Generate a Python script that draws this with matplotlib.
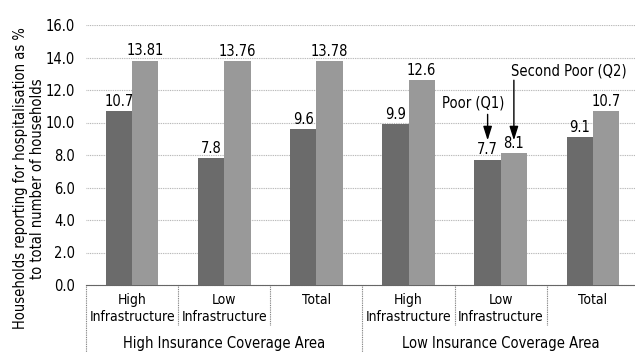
import matplotlib
matplotlib.use("Agg")
import matplotlib.pyplot as plt
from matplotlib.lines import Line2D
import numpy as np

plt.rcParams['font.family'] = ['DejaVu Sans']
plt.rcParams['font.stretch'] = 'condensed'

# --- DATA
categories = ["High\nInfrastructure", "Low\nInfrastructure", "Total",
              "High\nInfrastructure", "Low\nInfrastructure", "Total"]
groups = ["High Insurance Coverage Area", "Low Insurance Coverage Area"]
q1_values = [10.7, 7.8, 9.6, 9.9, 7.7, 9.1]
q2_values = [13.81, 13.76, 13.78, 12.6, 8.1, 10.7]
q1_labels = ["10.7", "7.8", "9.6", "9.9", "7.7", "9.1"]
q2_labels = ["13.81", "13.76", "13.78", "12.6", "8.1", "10.7"]
y_ticks = [0, 2, 4, 6, 8, 10, 12, 14, 16]

DARK = "#6b6b6b"
LIGHT = "#999999"
W = 0.285
FS = 10.5

fig = plt.figure(figsize=(6.35, 3.52), dpi=100)
ax = fig.add_axes([86 / 635, 1 - 285 / 352, 553 / 635, 260 / 352])

x = np.arange(len(categories))
ax.bar(x - W / 2, q1_values, W, color=DARK, zorder=3)
ax.bar(x + W / 2, q2_values, W, color=LIGHT, zorder=3)

for xi, v, lab in zip(x, q1_values, q1_labels):
    ax.text(xi - W / 2, v + 0.15, lab, ha='center', va='bottom', fontsize=FS)
for xi, v, lab in zip(x, q2_values, q2_labels):
    ax.text(xi + W / 2, v + 0.15, lab, ha='center', va='bottom', fontsize=FS)

ax.set_xlim(-0.5, 5.5)
ax.set_ylim(0, 16)
ax.set_yticks(y_ticks)
ax.set_yticklabels([f"{t:.1f}" for t in y_ticks], fontsize=FS)
ax.set_xticks([])
for t in y_ticks[1:]:
    ax.axhline(t, color="#b0b0b0", lw=0.8, ls=(0, (0.8, 0.8)), zorder=1)

for s in ['top', 'right', 'left']:
    ax.spines[s].set_visible(False)
ax.spines['bottom'].set_linestyle((0, (0.8, 0.8)))
ax.spines['bottom'].set_color("#666666")
ax.spines['bottom'].set_linewidth(0.8)
ax.tick_params(axis='y', length=0, pad=8)

# category labels and dividers
trans = ax.get_xaxis_transform()
for xi, c in zip(x, categories):
    ax.text(xi, -0.03, c, transform=trans, ha='center', va='top',
            fontsize=10, linespacing=1.3)
for i in range(6):
    xd = i - 0.5
    y_end = -0.155 if i % 3 else -0.3
    ax.add_line(Line2D([xd, xd], [0, y_end], transform=trans, color="#777777",
                       lw=0.8, ls=(0, (0.8, 0.8)), clip_on=False))
for gi, g in enumerate(groups):
    ax.text(1 + 3 * gi, -0.195, g, transform=trans, ha='center', va='top',
            fontsize=FS)

ax.set_ylabel("Households reporting for hospitalisation as %\nto total number of households",
              fontsize=10.5, linespacing=1.15)
ax.yaxis.set_label_coords(-0.075, 0.41)

# annotations
arrow = dict(arrowstyle="-|>,head_width=0.22,head_length=0.7", color="black",
             lw=1.0, mutation_scale=12, shrinkA=0, shrinkB=0)
ax.text(3.70, 11.2, "Poor (Q1)", ha='center', va='center', fontsize=FS)
ax.annotate("", xy=(4 - W / 2, 8.9), xytext=(4 - W / 2, 10.5), arrowprops=arrow)
ax.text(4.74, 13.17, "Second Poor (Q2)", ha='center', va='center', fontsize=FS)
ax.annotate("", xy=(4 + W / 2, 8.9), xytext=(4 + W / 2, 12.6), arrowprops=arrow)

fig.savefig("out.png", dpi=100)
